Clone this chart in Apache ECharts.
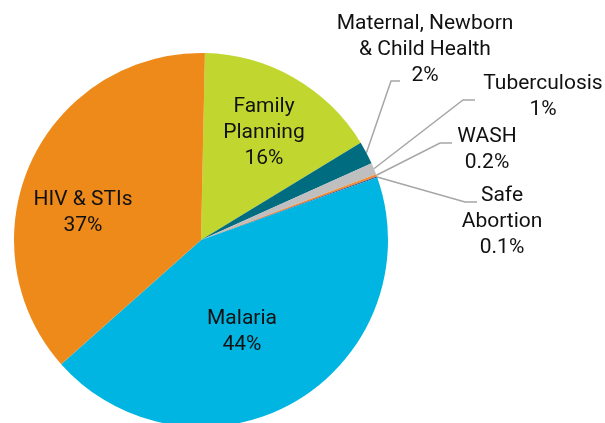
<!DOCTYPE html>
<html>
<head>
<meta charset="utf-8">
<script src="https://cdn.jsdelivr.net/npm/echarts@6/dist/echarts.min.js"></script>
<style>
  html, body { margin: 0; padding: 0; background: #fff; }
  #chart { width: 605px; height: 423px; }
</style>
</head>
<body>
<div id="chart"></div>
<script>
// slices, clockwise from the top
const names = ["Family\nPlanning", "Maternal, Newborn\n& Child Health", "Tuberculosis", "WASH", "Safe\nAbortion", "Malaria", "HIV & STIs"];
const values = [16, 2, 1, 0.2, 0.1, 44, 37];
const colors = ["#c1d72f", "#006c80", "#bfbfbf", "#f08c34", "#34468a", "#00b5e2", "#ee8a1a"];
const inside = [true, false, false, false, false, true, true];

// where each label block sits (centre) and, for outside ones, the elbow of its leader line
const labelPos = [[264, 133], [425, 50], [543, 97], [487, 150], [502, 222], [242, 332], [83, 213]];
const elbows = [null, [[391, 81], [400, 81]], [[463, 100], [475, 100]], [[440, 143], [452, 143]], [[465, 202], [477, 202]], null, null];

const chart = echarts.init(document.getElementById("chart"));

const option = {
  animation: false,
  series: [
    {
      type: "pie",
      center: [201, 240],
      radius: 187,
      startAngle: 88.8,
      clockwise: true,
      avoidLabelOverlap: false,
      itemStyle: { borderWidth: 0 },
      label: {
        show: true,
        position: "outside",
        color: "#111",
        fontFamily: "Roboto",
        fontSize: 21,
        lineHeight: 26,
        align: "center",
        formatter: p => p.name + "\n" + p.value + "%"
      },
      labelLine: {
        show: true,
        lineStyle: { color: "#a6a6a6", width: 1.5 }
      },
      labelLayout: function (params) {
        const i = params.dataIndex;
        const pos = labelPos[i];
        const out = { x: pos[0], y: pos[1], align: "center", verticalAlign: "middle" };
        if (elbows[i] && params.labelLinePoints) {
          out.labelLinePoints = [params.labelLinePoints[0], elbows[i][0], elbows[i][1]];
        }
        return out;
      },
      data: names.map((n, i) => ({
        name: n,
        value: values[i],
        itemStyle: { color: colors[i] },
        label: inside[i] ? { position: "inside" } : {},
        labelLine: inside[i] ? { show: false } : {}
      }))
    }
  ]
};

chart.setOption(option);
</script>
</body>
</html>
